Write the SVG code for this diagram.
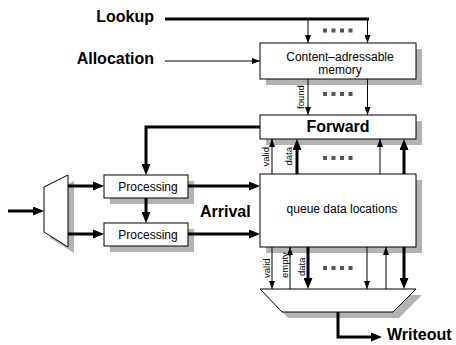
<svg xmlns="http://www.w3.org/2000/svg" width="456" height="345" viewBox="0 0 456 345">
  <style>
    .box { fill: #ffffff; stroke: #000000; stroke-width: 1; }
    .shadow { fill: #b3b3b3; stroke: none; }
    .thin { stroke: #000000; stroke-width: 1; fill: none; }
    .thick { stroke: #000000; stroke-width: 3; fill: none; }
    .lbl { font-family: "Liberation Sans", Arial, sans-serif; font-weight: bold; font-size: 16px; fill: #000000; }
    .txt { font-family: "Liberation Sans", Arial, sans-serif; font-size: 12px; fill: #000000; }
    .sig { font-family: "Liberation Sans", Arial, sans-serif; font-size: 9.5px; fill: #000000; }
    .dots { fill: #555555; }
  </style>
  <defs>
    <marker id="ah" markerUnits="userSpaceOnUse" markerWidth="8" markerHeight="6" refX="8" refY="3" orient="auto">
      <path d="M0,0 L8,3 L0,6 z" fill="#000000"/>
    </marker>
    <marker id="ahb" markerUnits="userSpaceOnUse" markerWidth="11" markerHeight="9" refX="4" refY="4.5" orient="auto">
      <path d="M0,0 L11,4.5 L0,9 z" fill="#000000"/>
    </marker>
    <g id="dotrow">
      <rect x="0" y="0" width="4" height="4"/>
      <rect x="8.5" y="0" width="4" height="4"/>
      <rect x="17" y="0" width="4" height="4"/>
      <rect x="25.5" y="0" width="4" height="4"/>
    </g>
  </defs>

  <!-- side labels -->
  <text class="lbl" x="154" y="22" text-anchor="end">Lookup</text>
  <text class="lbl" x="154" y="64" text-anchor="end">Allocation</text>
  <text class="lbl" x="200" y="217">Arrival</text>
  <text class="lbl" x="387" y="340">Writeout</text>

  <!-- nodes -->
  <g id="cam">
    <rect class="shadow" x="266" y="49" width="156" height="36"/>
    <rect class="box" x="260" y="43" width="156" height="36"/>
    <text class="txt" x="340" y="61" text-anchor="middle">Content–adressable</text>
    <text class="txt" x="340" y="73.5" text-anchor="middle">memory</text>
  </g>

  <g id="forward">
    <rect class="shadow" x="266" y="121" width="156" height="24"/>
    <rect class="box" x="260" y="115" width="156" height="24"/>
    <text class="lbl" x="338" y="132" text-anchor="middle">Forward</text>
  </g>

  <g id="queue">
    <rect class="shadow" x="266" y="180" width="156" height="73"/>
    <rect class="box" x="260" y="174" width="156" height="73"/>
    <text class="txt" x="342" y="213" text-anchor="middle">queue data locations</text>
  </g>

  <g id="processing1">
    <rect class="shadow" x="110" y="181" width="84" height="23"/>
    <rect class="box" x="104" y="175" width="84" height="23"/>
    <text class="txt" x="148" y="190.5" text-anchor="middle">Processing</text>
  </g>

  <g id="processing2">
    <rect class="shadow" x="110" y="229" width="84" height="23"/>
    <rect class="box" x="104" y="223" width="84" height="23"/>
    <text class="txt" x="148" y="238.5" text-anchor="middle">Processing</text>
  </g>

  <g id="demux">
    <polygon class="shadow" points="50,193 74,181 74,253 50,238"/>
    <polygon class="box" points="44,187 68,175 68,247 44,232"/>
  </g>

  <g id="writemux">
    <polygon class="shadow" points="266,295 422,295 399,318 288,318"/>
    <polygon class="box" points="260,289 416,289 393,312 282,312"/>
  </g>

  <!-- connectors -->
  <g id="connectors">
    <!-- lookup bus into the CAM -->
    <line class="thick" x1="165" y1="19" x2="369" y2="19"/>
    <line class="thin" x1="308" y1="19" x2="308" y2="43" marker-end="url(#ah)"/>
    <line class="thin" x1="367.5" y1="19" x2="367.5" y2="43" marker-end="url(#ah)"/>
    <!-- allocation -->
    <line class="thin" x1="165" y1="61" x2="260" y2="61" marker-end="url(#ah)"/>
    <!-- CAM to Forward -->
    <line class="thin" x1="308" y1="79" x2="308" y2="115" marker-end="url(#ah)"/>
    <line class="thin" x1="367.5" y1="79" x2="367.5" y2="115" marker-end="url(#ah)"/>
    <!-- Forward feedback to processing -->
    <path class="thick" d="M260,127 H146 V168" marker-end="url(#ahb)"/>
    <!-- input and demux outputs -->
    <line class="thick" x1="8" y1="211" x2="37" y2="211" marker-end="url(#ahb)"/>
    <line class="thick" x1="68" y1="186" x2="97" y2="186" marker-end="url(#ahb)"/>
    <line class="thick" x1="68" y1="234" x2="97" y2="234" marker-end="url(#ahb)"/>
    <line class="thick" x1="146" y1="198" x2="146" y2="216" marker-end="url(#ahb)"/>
    <!-- processing into queue -->
    <line class="thick" x1="188" y1="186" x2="253" y2="186" marker-end="url(#ahb)"/>
    <line class="thick" x1="188" y1="234" x2="253" y2="234" marker-end="url(#ahb)"/>
    <!-- queue up to Forward -->
    <line class="thin" x1="272" y1="174" x2="272" y2="139" marker-end="url(#ah)"/>
    <line class="thick" x1="297" y1="174" x2="297" y2="146" marker-end="url(#ahb)"/>
    <line class="thin" x1="380" y1="174" x2="380" y2="139" marker-end="url(#ah)"/>
    <line class="thick" x1="404" y1="174" x2="404" y2="146" marker-end="url(#ahb)"/>
    <!-- queue down to writeout mux -->
    <line class="thin" x1="272" y1="247" x2="272" y2="289" marker-end="url(#ah)"/>
    <line class="thin" x1="290" y1="289" x2="290" y2="247" marker-end="url(#ah)"/>
    <line class="thick" x1="308" y1="247" x2="308" y2="282" marker-end="url(#ahb)"/>
    <line class="thin" x1="367" y1="247" x2="367" y2="289" marker-end="url(#ah)"/>
    <line class="thin" x1="386" y1="289" x2="386" y2="247" marker-end="url(#ah)"/>
    <line class="thick" x1="404" y1="247" x2="404" y2="282" marker-end="url(#ahb)"/>
    <!-- writeout -->
    <path class="thick" d="M338,312 V337 H375" stroke-width="2.5" marker-end="url(#ahb)"/>

    <!-- signal names -->
    <text class="sig" transform="translate(304,97) rotate(-90)" text-anchor="middle">found</text>
    <text class="sig" transform="translate(268.5,147) rotate(-90)" text-anchor="end">valid</text>
    <text class="sig" transform="translate(292,147) rotate(-90)" text-anchor="end">data</text>
    <text class="sig" transform="translate(270,278) rotate(-90)">valid</text>
    <text class="sig" transform="translate(288,278) rotate(-90)">empty</text>
    <text class="sig" transform="translate(305,276) rotate(-90)">data</text>

    <!-- elided lanes -->
    <use href="#dotrow" class="dots" x="323" y="28.5"/>
    <use href="#dotrow" class="dots" x="323" y="92"/>
    <use href="#dotrow" class="dots" x="323" y="156"/>
    <use href="#dotrow" class="dots" x="323" y="266"/>
  </g>
</svg>
